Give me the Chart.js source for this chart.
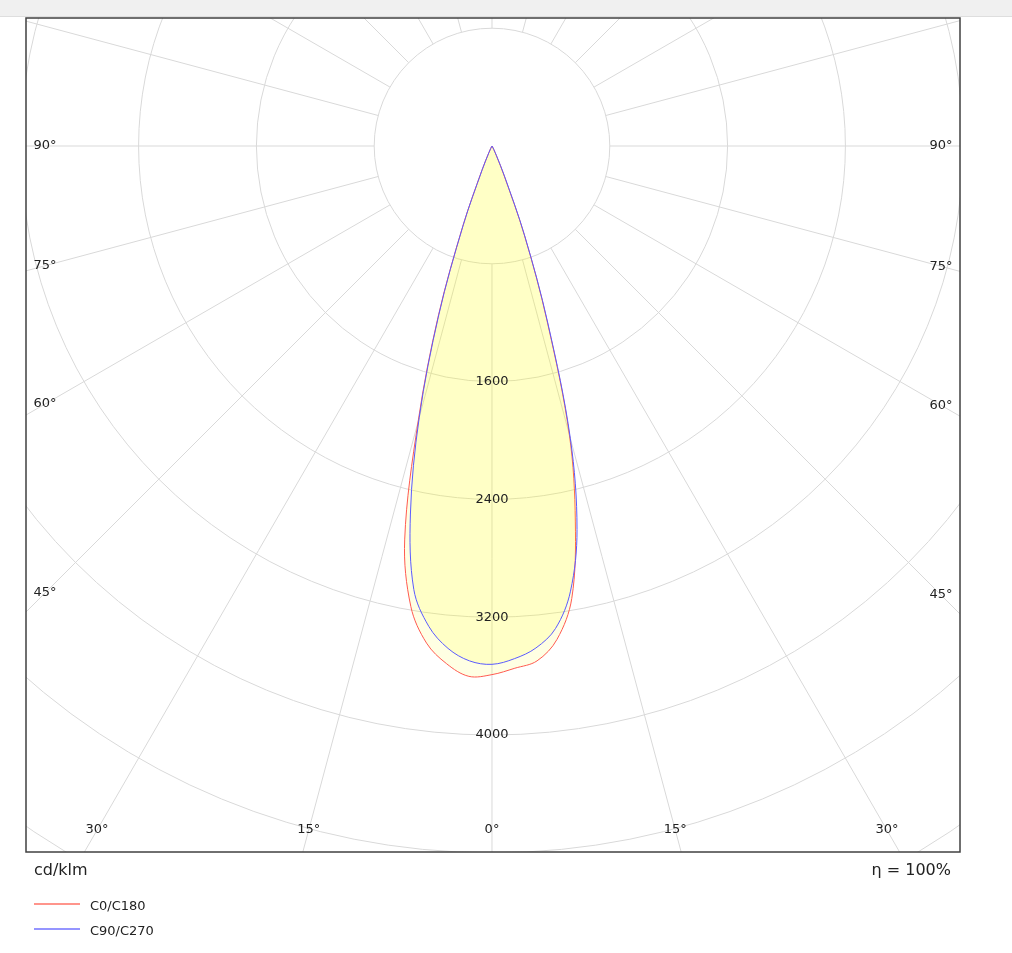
<!DOCTYPE html>
<html>
<head>
<meta charset="utf-8">
<script src="https://cdn.jsdelivr.net/npm/chart.js@4/dist/chart.umd.min.js"></script>
<style>
body{margin:0;background:#fff;font-family:"DejaVu Sans",sans-serif;color:#222;}
#bar{position:absolute;left:0;top:0;width:1012px;height:16px;background:#f0f0f0;border-bottom:1px solid #dedede;}
#wrap{position:absolute;left:0;top:0;width:1012px;height:953px;}
.txt{position:absolute;white-space:nowrap;}
.big{font-size:16px;line-height:20px;top:860px;}
.leg{font-size:13px;line-height:16px;left:90px;}
.sw{position:absolute;left:34px;width:46px;height:2px;}
</style>
</head>
<body>
<div id="bar"></div>
<div id="wrap"><canvas id="polar" width="1012" height="953"></canvas></div>
<div class="txt big" style="left:34px">cd/klm</div>
<div class="txt big" style="right:61px">η = 100%</div>
<div class="sw" style="top:903px;background:#ff958c"></div>
<div class="txt leg" style="top:898px">C0/C180</div>
<div class="sw" style="top:928px;background:#9595ff"></div>
<div class="txt leg" style="top:923px">C90/C270</div>
<script>
// DATA (gamma in degrees, intensity in cd/klm)
const gammas = [0,2.5,5,7.5,10,12.5,15,17.5,20,22.5,25,27.5,30,32.5];
const c0   = [3590,3550,3510,3380,3120,2615,2030,1240,640,200,60,25,8,0];
const c180 = [3590,3605,3530,3405,3175,2740,1940,1220,580,180,55,20,5,0];
const c90  = [3520,3485,3422,3305,3070,2668,2055,1260,650,220,70,25,8,0];
const c270 = [3520,3500,3425,3290,3058,2560,1910,1200,570,170,50,20,5,0];

// GRID + TICKS
const rings = [800,1600,2400,3200,4000,4800,5600,6400];
const ringLabels = [1600,2400,3200,4000];
const sideLabels = [90,75,60,45];
const bottomLabels = [-30,-15,0,15,30];
const spokeStep = 15;

const rad = d => d*Math.PI/180;

// left half (C180 / C270) then right half (C0 / C90), 0 deg = straight down
function curve(left,right){
const pts=[];
for(let i=gammas.length-1;i>=0;i--){
const t=rad(gammas[i]);
pts.push({x:-left[i]*Math.sin(t),y:-left[i]*Math.cos(t)});
}
for(let i=1;i<gammas.length;i++){
const t=rad(gammas[i]);
pts.push({x:right[i]*Math.sin(t),y:-right[i]*Math.cos(t)});
}
return pts;
}

const polarGrid={
id:"polarGrid",
beforeDatasetsDraw(chart){
const {ctx,chartArea:a,scales:{x,y}}=chart;
const cx=x.getPixelForValue(0), cy=y.getPixelForValue(0);
const px=v=>x.getPixelForValue(v)-cx;
ctx.save();
ctx.beginPath();
ctx.rect(a.left,a.top,a.width,a.height);
ctx.clip();
ctx.strokeStyle="#d9d9d9";
ctx.lineWidth=1;
rings.forEach(r=>{
ctx.beginPath();
ctx.arc(cx,cy,px(r),0,2*Math.PI);
ctx.stroke();
});
const r0=px(rings[0]), r1=px(rings[rings.length-1])*1.5;
for(let g=0;g<360;g+=spokeStep){
const t=rad(g);
ctx.beginPath();
ctx.moveTo(cx+r0*Math.sin(t),cy+r0*Math.cos(t));
ctx.lineTo(cx+r1*Math.sin(t),cy+r1*Math.cos(t));
ctx.stroke();
}
ctx.restore();
},
afterDatasetsDraw(chart){
const {ctx,chartArea:a,scales:{x,y}}=chart;
const cx=x.getPixelForValue(0), cy=y.getPixelForValue(0);
ctx.save();
ctx.font='13px "DejaVu Sans"';
ctx.fillStyle="#222";
ctx.textAlign="center";
ctx.textBaseline="middle";
ringLabels.forEach(v=>{
ctx.fillText(String(v),cx,y.getPixelForValue(-v));
});
// side angle labels sit on their spoke, 19px inside the frame
sideLabels.forEach(g=>{
const t=rad(g);
const xl=a.left+19, xr=a.right-19;
ctx.fillText(g+"°",xl,cy+(cx-xl)/Math.tan(t));
ctx.fillText(g+"°",xr,cy+(xr-cx)/Math.tan(t));
});
bottomLabels.forEach(g=>{
const yb=a.bottom-22;
ctx.fillText(Math.abs(g)+"°",cx+(yb-cy)*Math.tan(rad(g)),yb);
});
ctx.restore();
},
afterDraw(chart){
const {ctx,chartArea:a}=chart;
ctx.save();
ctx.strokeStyle="#404040";
ctx.lineWidth=1.5;
ctx.strokeRect(a.left,a.top,a.width,a.height);
ctx.restore();
}
};

new Chart(document.getElementById("polar"),{
type:"scatter",
data:{datasets:[
{label:"C90/C270",data:curve(c270,c90),showLine:true,fill:"shape",
borderColor:"#5a5aff",backgroundColor:"rgba(255,255,0,0.13)",borderWidth:1,pointRadius:0,tension:0.35,order:1},
{label:"C0/C180",data:curve(c180,c0),showLine:true,fill:"shape",
borderColor:"#ff5a50",backgroundColor:"rgba(255,255,0,0.11)",borderWidth:1,pointRadius:0,tension:0.35,order:2}
]},
options:{
responsive:false,
animation:false,
devicePixelRatio:1,
layout:{padding:{left:26,top:18,right:52,bottom:101}},
scales:{
x:{type:"linear",display:false,min:-3164.7,max:3178.3},
y:{type:"linear",display:false,min:-4794.6,max:869.3}
},
plugins:{legend:{display:false},tooltip:{enabled:false}}
},
plugins:[polarGrid]
});
</script>
</body>
</html>
